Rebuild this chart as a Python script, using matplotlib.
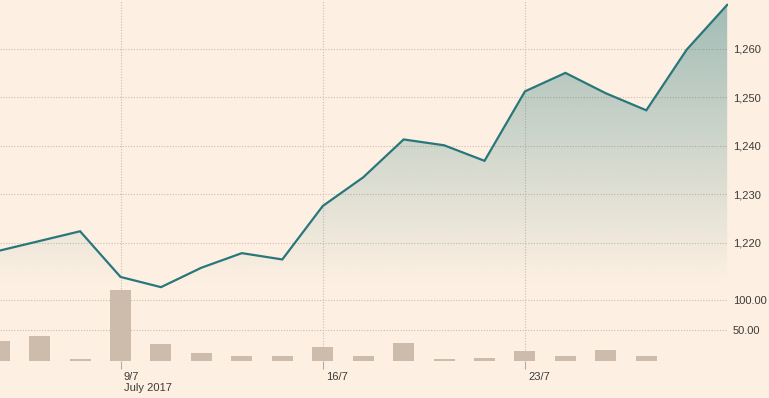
import numpy as np
import matplotlib
matplotlib.use('Agg')
import matplotlib.pyplot as plt
import matplotlib.transforms as mtransforms

plt.rcParams['font.family'] = ['Liberation Sans', 'DejaVu Sans']
plt.rcParams['font.size'] = 8

# daily close and volume (one value per trading day)
price = [1218.4, 1220.4, 1222.4, 1213.0, 1210.9, 1214.9, 1217.9, 1216.6, 1227.6, 1233.5,
         1241.3, 1240.1, 1236.9, 1251.2, 1255.0, 1250.8, 1247.3, 1259.8, 1269.0]
volume = [33, 41, 3, 116, 28, 13, 8, 8, 23, 8, 30, 3, 5, 16, 8, 18, 8]
tick_pos = [3, 8, 13]
tick_labels = ['9/7', '16/7', '23/7']
month_label = 'July 2017'
price_ticks = [1220, 1230, 1240, 1250, 1260]
vol_ticks = [50, 100]

bg = '#fdf0e2'
line_col = '#29777b'
bar_col = '#cdbcab'
grid_col = '#c9beb2'
text_col = '#3d3a37'

W, H = 769, 398
fig = plt.figure(figsize=(W / 100, H / 100), dpi=100)
fig.patch.set_facecolor(bg)

rect = [0, 37 / H, 728 / W, 361 / H]
ax = fig.add_axes(rect)
ax.set_facecolor(bg)
ax2 = fig.add_axes(rect, sharex=ax)
ax2.patch.set_visible(False)

x = np.arange(len(price))
xlim = (0.02, 18.02)

# price panel
ax.set_xlim(*xlim)
ax.set_ylim(1195.7, 1270.0)
fill_base = 1211.3
poly = ax.fill_between(x, price, fill_base, color='none', lw=0)
grad = np.zeros((256, 1, 4))
grad[..., :3] = matplotlib.colors.to_rgb(line_col)
grad[:, 0, 3] = np.linspace(0.43, 0.0, 256)
img = ax.imshow(grad, aspect='auto', extent=[xlim[0], 18.02, fill_base, 1269.0],
                origin='upper', zorder=1)
img.set_clip_path(poly.get_paths()[0], transform=ax.transData)
ax.plot(x, price, color=line_col, lw=1.6, zorder=3, solid_joinstyle='miter')

ax.yaxis.tick_right()
ax.set_yticks(price_ticks)
ax.set_yticklabels([f'{v:,}' for v in price_ticks])
for v in price_ticks:
    ax.axhline(v, color=grid_col, lw=0.8, ls=(0, (1, 1.5)), zorder=0.5)
for t in tick_pos:
    ax.axvline(t, color=grid_col, lw=0.8, ls=(0, (1, 1.5)), zorder=0.5)

# volume panel
ax2.set_ylim(0, 591.8)
ax2.bar(np.arange(len(volume)), volume, width=0.52, color=bar_col, zorder=2)
ax2.yaxis.tick_right()
ax2.set_yticks(vol_ticks)
ax2.set_yticklabels([f'{v:.2f}' for v in vol_ticks])
for v in vol_ticks:
    ax2.axhline(v, color=grid_col, lw=0.8, ls=(0, (1, 1.5)), zorder=0.5)

for a in (ax, ax2):
    for s in a.spines.values():
        s.set_visible(False)
    a.tick_params(axis='y', length=0, pad=3.6, labelcolor=text_col, labelsize=8)

ax.set_xticks(tick_pos)
ax.set_xticklabels([])
ax.tick_params(axis='x', length=6, width=0.8, color='#b5aca2', direction='out')
ax2.tick_params(axis='x', length=0, labelbottom=False)

trans = mtransforms.blended_transform_factory(ax.transData, fig.transFigure)
for t, lab in zip(tick_pos, tick_labels):
    ax.text(t + 0.08, (H - 377.5) / H, lab, transform=trans, ha='left', va='center',
            color=text_col, fontsize=8)
ax.text(tick_pos[0] + 0.08, (H - 388) / H, month_label, transform=trans, ha='left',
        va='center', color=text_col, fontsize=8)

fig.savefig('out.png', dpi=100, facecolor=bg)
